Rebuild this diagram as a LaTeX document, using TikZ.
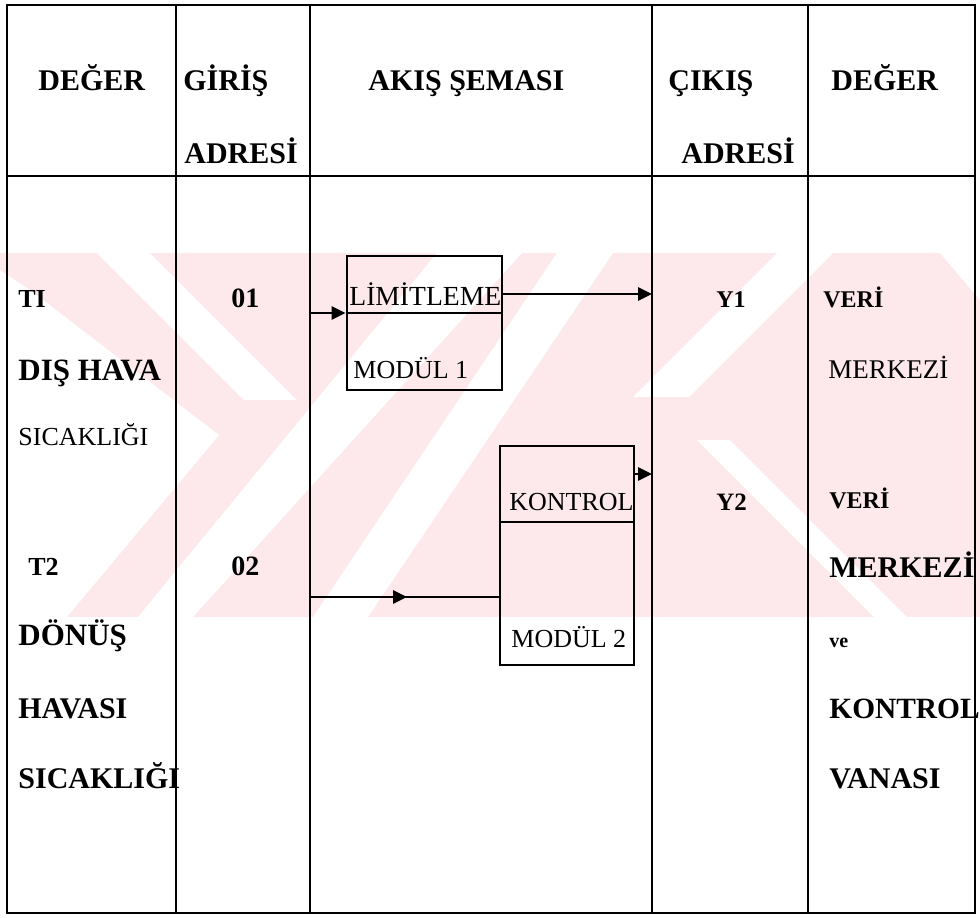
\documentclass[tikz,border=0pt]{standalone}
\usepackage{fontspec}
\setmainfont{Liberation Serif}
\usepackage{xcolor}
\usepackage{tikz}
\usetikzlibrary{arrows.meta,positioning,calc}
\definecolor{wmpink}{HTML}{FDE9EC}

\begin{document}
\begin{tikzpicture}[>={Triangle[length=7pt,width=6.5pt]},x=0.5pt,y=-0.5pt,line width=1.4pt,
  hd/.style={anchor=base west,inner sep=0pt,font=\bfseries\fontsize{15}{18}\selectfont},
  bd/.style={anchor=base west,inner sep=0pt,font=\bfseries\fontsize{#1}{16}\selectfont},
  rg/.style={anchor=base west,inner sep=0pt,font=\fontsize{#1}{16}\selectfont},
  modbox/.style={draw,rectangle,inner sep=0pt}]
  \useasboundingbox (0,0) rectangle (980,917);
  % watermark band
  \fill[wmpink] (0,253) rectangle (980,617);
  \fill[white] (0,270) -- (30,290) -- (219,435) -- (67,617) -- (0,617) -- cycle;
  \fill[white] (97,253) -- (150,253) -- (297,400) -- (244,400) -- cycle;
  \fill[white] (437,253) -- (522,253) -- (193,617) -- (138,617) -- cycle;
  \fill[white] (557,253) -- (613,253) -- (368,617) -- (313,617) -- cycle;
  \fill[white] (777,253) -- (833,253) -- (689,397) -- (633,397) -- cycle;
  \fill[white] (940,253) -- (980,253) -- (980,300) -- cycle;
  \fill[white] (697,440) -- (730,440) -- (907,617) -- (874,617) -- cycle;
  % table frame
  \draw (7,5) rectangle (975,913);
  \draw (7,176) -- (975,176);
  \foreach \cx in {176,310,652,808} \draw (\cx,5) -- (\cx,913);
  % header row
  \node[hd] (hdeg1) at (37,90) {DEĞER};
  \node[hd] (hgir) at (182,90) {GİRİŞ};
  \node[hd] (hadr1) at (183,163) {ADRESİ};
  \node[hd] (hakis) at (367,90) {AKIŞ ŞEMASI};
  \node[hd] (hcik) at (667,90) {ÇIKIŞ};
  \node[hd] (hadr2) at (680,163) {ADRESİ};
  \node[hd] (hdeg2) at (830,90) {DEĞER};
  % input values
  \node[bd=13] (t1) at (17,307) {TI};
  \node[bd=15.5] (t1a) at (17,380) {DIŞ HAVA};
  \node[rg=13] (t1b) at (17,445) {SICAKLIĞI};
  \node[bd=13] (t2) at (27,575) {T2};
  \node[bd=15.5] (t2a) at (17,645) {DÖNÜŞ};
  \node[bd=15] (t2b) at (17,718) {HAVASI};
  \node[bd=15] (t2c) at (17,788) {SICAKLIĞI};
  \node[bd=14] (adr1) at (230,307) {01};
  \node[bd=14] (adr2) at (230,575) {02};
  % modules
  \node[modbox,minimum width=77.5pt,minimum height=67pt] (lim) at (424.5,323) {};
  \node[modbox,minimum width=67pt,minimum height=109.5pt] (kont) at (567,555.5) {};
  \coordinate (bus1) at (310,313);
  \coordinate (bus2) at (310,597);
  \coordinate (mid2) at (407,597);
  \coordinate (out1) at (652,294);
  \coordinate (out2) at (652,474);
  \coordinate (div2) at (500,522);
  \draw (lim.west |- bus1) -- (lim.east |- bus1);
  \draw (kont.west |- div2) -- (kont.east |- div2);
  \node[rg=13.8] (limtx) at (348,305) {LİMİTLEME};
  \node[rg=13] (mod1) at (352,378) {MODÜL 1};
  \node[rg=13] (konttx) at (508,510) {KONTROL};
  \node[rg=13] (mod2) at (510,647) {MODÜL 2};
  \draw[->] (bus1) -- (lim.west |- bus1);
  \draw[->] (lim.east |- out1) -- (out1);
  \draw[->] (kont.east |- out2) -- (out2);
  \draw (bus2) -- (kont.west |- bus2);
  \draw[->] (bus2) -- (mid2);
  % outputs
  \node[bd=12] (y1) at (715,307) {Y1};
  \node[bd=12.5] (y2) at (715,510) {Y2};
  \node[bd=12] (v1) at (822,307) {VERİ};
  \node[rg=13.5] (v1a) at (827,378) {MERKEZİ};
  \node[bd=12] (v2) at (828,508) {VERİ};
  \node[bd=15] (v2a) at (828,577) {MERKEZİ};
  \node[bd=10] (v2b) at (828,647) {ve};
  \node[bd=14.7] (v2c) at (828,718) {KONTROL};
  \node[bd=15] (v2d) at (828,788) {VANASI};
\end{tikzpicture}
\end{document}
